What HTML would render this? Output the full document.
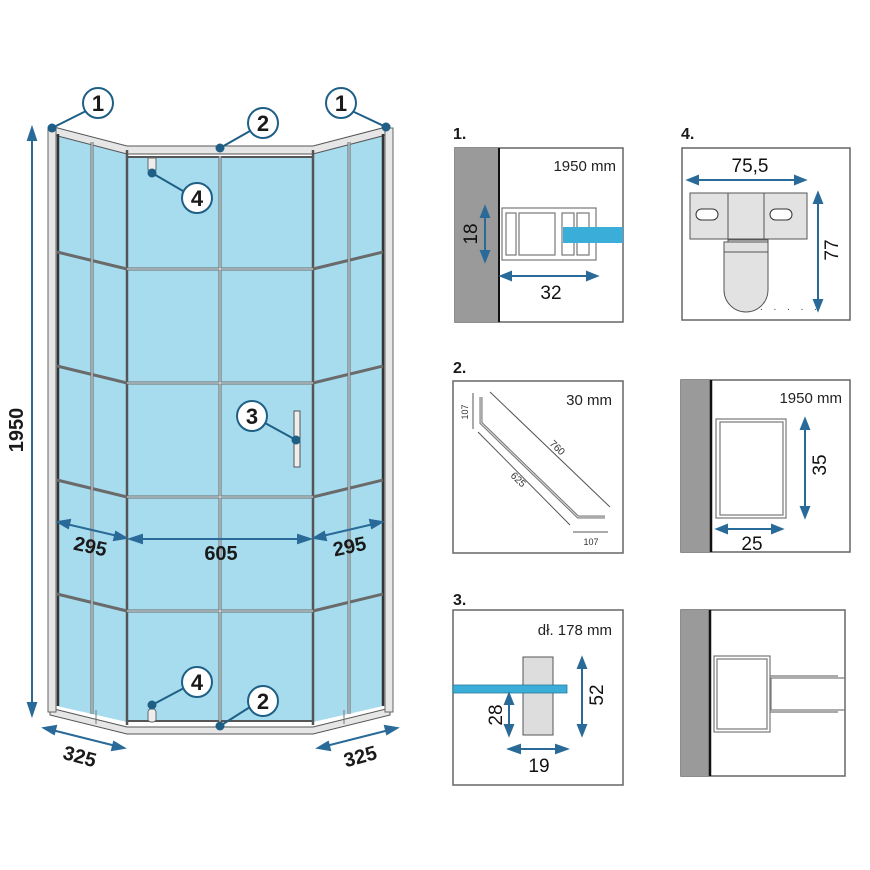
<!DOCTYPE html>
<html><head><meta charset="utf-8"><style>
html,body{margin:0;padding:0;background:#fff}
svg{display:block}
text{font-family:"Liberation Sans",sans-serif}
</style></head><body>
<svg width="870" height="870" viewBox="0 0 870 870" xmlns="http://www.w3.org/2000/svg">
<rect width="870" height="870" fill="#fff"/>
<!-- glass -->
<polygon points="57,133 127,150 127,722 57,706" fill="#a7dcef"/>
<polygon points="127,156 313,156 313,722 127,722" fill="#a7dcef"/>
<polygon points="313,150 383,133 383,706 313,722" fill="#a7dcef"/>
<!-- top frames -->
<polygon points="50,126 127,146 313,146 390,126 390,134 313,154 127,154 50,134" fill="#e6e6e6" stroke="#555" stroke-width="1"/>
<line x1="127" y1="157" x2="313" y2="157" stroke="#555" stroke-width="2"/>
<!-- bottom frames -->
<polygon points="50,708 127,727 313,727 390,708 390,715 313,734 127,734 50,715" fill="#e6e6e6" stroke="#555" stroke-width="1"/>
<line x1="127" y1="721" x2="313" y2="721" stroke="#555" stroke-width="2"/>
<line x1="96" y1="710" x2="96" y2="724" stroke="#777" stroke-width="1"/>
<line x1="344" y1="710" x2="344" y2="724" stroke="#777" stroke-width="1"/>
<!-- posts -->
<rect x="48" y="128" width="8" height="584" fill="#e6e6e6" stroke="#666" stroke-width="1"/>
<rect x="385" y="128" width="8" height="584" fill="#e6e6e6" stroke="#666" stroke-width="1"/>
<line x1="58" y1="134" x2="58" y2="706" stroke="#333" stroke-width="2.5"/>
<line x1="383" y1="134" x2="383" y2="706" stroke="#333" stroke-width="2.5"/>
<!-- panel dividers -->
<g stroke="#555" stroke-width="2.5">
<line x1="127" y1="150" x2="127" y2="725"/>
<line x1="313" y1="150" x2="313" y2="725"/>
</g>
<!-- grid -->
<g stroke="#6a6a6a" stroke-width="3" fill="none">
<line x1="220" y1="156" x2="220" y2="722"/>
<line x1="92" y1="142" x2="92" y2="714"/>
<line x1="349" y1="142" x2="349" y2="714"/>
<line x1="127" y1="269" x2="313" y2="269"/>
<line x1="127" y1="383" x2="313" y2="383"/>
<line x1="127" y1="497" x2="313" y2="497"/>
<line x1="127" y1="611" x2="313" y2="611"/>
<line x1="57" y1="252" x2="127" y2="269"/>
<line x1="57" y1="366" x2="127" y2="383"/>
<line x1="57" y1="480" x2="127" y2="497"/>
<line x1="57" y1="594" x2="127" y2="611"/>
<line x1="313" y1="269" x2="383" y2="252"/>
<line x1="313" y1="383" x2="383" y2="366"/>
<line x1="313" y1="497" x2="383" y2="480"/>
<line x1="313" y1="611" x2="383" y2="594"/>
</g>
<g stroke="#d8eef6" stroke-width="1" fill="none">
<line x1="220" y1="156" x2="220" y2="722"/>
<line x1="92" y1="142" x2="92" y2="714"/>
<line x1="349" y1="142" x2="349" y2="714"/>
<line x1="127" y1="269" x2="313" y2="269"/>
<line x1="127" y1="383" x2="313" y2="383"/>
<line x1="127" y1="497" x2="313" y2="497"/>
<line x1="127" y1="611" x2="313" y2="611"/>
</g>
<!-- hinges / handle -->
<rect x="148" y="158" width="8" height="12" fill="#eee" stroke="#666"/>
<rect x="148" y="709" width="8" height="13" rx="3" fill="#eee" stroke="#666"/>
<rect x="294" y="411" width="6" height="56" fill="#eee" stroke="#555"/>
<!-- callouts -->
<g stroke="#1f5f86" stroke-width="2" fill="none">
<line x1="52" y1="128" x2="86" y2="111"/>
<line x1="386" y1="127" x2="352" y2="111"/>
<line x1="220" y1="148" x2="250" y2="131"/>
<line x1="152" y1="173" x2="183" y2="191"/>
<line x1="296" y1="440" x2="265" y2="423"/>
<line x1="152" y1="705" x2="184" y2="688"/>
<line x1="220" y1="726" x2="250" y2="707"/>
</g>
<g fill="#1f5f86">
<circle cx="52" cy="128" r="4.5"/><circle cx="386" cy="127" r="4.5"/><circle cx="220" cy="148" r="4.5"/>
<circle cx="152" cy="173" r="4.5"/><circle cx="296" cy="440" r="4.5"/><circle cx="152" cy="705" r="4.5"/><circle cx="220" cy="726" r="4.5"/>
</g>
<g fill="#fff" stroke="#1f5f86" stroke-width="2">
<circle cx="98" cy="103" r="15"/><circle cx="341" cy="103" r="15"/><circle cx="263" cy="123" r="15"/>
<circle cx="197" cy="198" r="15"/><circle cx="252" cy="416" r="15"/><circle cx="197" cy="682" r="15"/><circle cx="263" cy="701" r="15"/>
</g>
<g font-size="22" font-weight="bold" fill="#1a1a1a" text-anchor="middle">
<text x="98" y="111">1</text><text x="341" y="111">1</text><text x="263" y="131">2</text>
<text x="197" y="206">4</text><text x="252" y="424">3</text><text x="197" y="690">4</text><text x="263" y="709">2</text>
</g>
<!-- dimensions main -->
<g stroke="#2a6a98" stroke-width="2" fill="#2a6a98">
<line x1="32" y1="135" x2="32" y2="710"/>
<polygon points="32,128 28,140 36,140"/><polygon points="32,715 28,703 36,703"/>
<line x1="62" y1="523" x2="122" y2="537"/>
<polygon points="58,522 70,520 68,528"/><polygon points="126,538 114,540 116,532"/>
<line x1="134" y1="539" x2="306" y2="539"/>
<polygon points="130,539 142,535 142,543"/><polygon points="310,539 298,535 298,543"/>
<line x1="318" y1="537" x2="378" y2="523"/>
<polygon points="314,538 324,532 326,540"/><polygon points="382,522 372,528 370,520"/>
<line x1="48" y1="729" x2="120" y2="747"/>
<polygon points="44,728 56,726 54,734"/><polygon points="124,748 112,750 114,742"/>
<line x1="322" y1="747" x2="393" y2="729"/>
<polygon points="318,748 328,742 330,750"/><polygon points="397,728 387,734 385,726"/>
</g>
<g font-size="20" font-weight="bold" fill="#1a1a1a" text-anchor="middle">
<text transform="translate(23,430) rotate(-90)">1950</text>
<text transform="translate(89,553) rotate(12)">295</text>
<text x="221" y="560">605</text>
<text transform="translate(351,553) rotate(-12)">295</text>
<text transform="translate(78,763) rotate(15)">325</text>
<text transform="translate(362,763) rotate(-15)">325</text>
</g>
<!-- detail labels -->
<g font-size="16" font-weight="bold" fill="#1a1a1a">
<text x="453" y="139">1.</text><text x="681" y="139">4.</text>
<text x="453" y="373">2.</text><text x="453" y="605">3.</text>
</g>
<!-- panel 1 -->
<rect x="455" y="148" width="168" height="174" fill="#fff" stroke="#666" stroke-width="1.5"/>
<rect x="455" y="148" width="44" height="174" fill="#9a9a9a"/>
<line x1="499" y1="148" x2="499" y2="322" stroke="#111" stroke-width="2"/>
<g fill="none" stroke="#777" stroke-width="1.2">
<rect x="502" y="208" width="94" height="52"/>
<rect x="506" y="213" width="10" height="42"/>
<rect x="519" y="213" width="36" height="42"/>
<rect x="562" y="213" width="12" height="42"/>
<rect x="577" y="213" width="12" height="42"/>
</g>
<rect x="563" y="227" width="60" height="16" fill="#3aaed8"/>
<text x="616" y="171" font-size="15" fill="#222" text-anchor="end">1950 mm</text>
<g stroke="#2a6a98" stroke-width="2" fill="#2a6a98">
<line x1="485" y1="212" x2="485" y2="256"/><polygon points="485,207 481,217 489,217"/><polygon points="485,261 481,251 489,251"/>
<line x1="506" y1="276" x2="592" y2="276"/><polygon points="501,276 511,272 511,280"/><polygon points="597,276 587,272 587,280"/>
</g>
<text transform="translate(477,234) rotate(-90)" font-size="19" fill="#111" text-anchor="middle">18</text>
<text x="551" y="299" font-size="19" fill="#111" text-anchor="middle">32</text>
<!-- panel 4 -->
<rect x="682" y="148" width="168" height="172" fill="#fff" stroke="#666" stroke-width="1.5"/>
<g stroke="#555" stroke-width="1" fill="#e2e2e2">
<rect x="690" y="193" width="117" height="46"/>
<rect x="728" y="240" width="40" height="6"/>
<path d="M724,242 H768 V290 A22,22 0 0 1 724,290 Z"/>
</g>
<line x1="728" y1="193" x2="728" y2="239" stroke="#555"/><line x1="764" y1="193" x2="764" y2="239" stroke="#555"/>
<line x1="724" y1="252" x2="768" y2="252" stroke="#555"/>
<rect x="696" y="209" width="22" height="11" rx="5.5" fill="#fff" stroke="#333"/>
<rect x="770" y="209" width="22" height="11" rx="5.5" fill="#fff" stroke="#333"/>
<text x="760" y="310" font-size="10" fill="#444" letter-spacing="4">. . . . .</text>
<text x="750" y="172" font-size="19" fill="#111" text-anchor="middle">75,5</text>
<g stroke="#2a6a98" stroke-width="2" fill="#2a6a98">
<line x1="692" y1="180" x2="800" y2="180"/><polygon points="688,180 698,176 698,184"/><polygon points="805,180 795,176 795,184"/>
<line x1="818" y1="198" x2="818" y2="305"/><polygon points="818,193 814,203 822,203"/><polygon points="818,310 814,300 822,300"/>
</g>
<text transform="translate(838,250) rotate(-90)" font-size="19" fill="#111" text-anchor="middle">77</text>
<!-- panel 2 -->
<rect x="453" y="381" width="170" height="172" fill="#fff" stroke="#666" stroke-width="1.5"/>
<text x="612" y="405" font-size="15" fill="#222" text-anchor="end">30 mm</text>
<path d="M481,397 V423 L578,517 H605" fill="none" stroke="#777" stroke-width="3"/>
<path d="M481,397 V423 L578,517 H605" fill="none" stroke="#ddd" stroke-width="1"/>
<g stroke="#555" stroke-width="1" fill="#555">
<line x1="490" y1="392" x2="610" y2="507"/><line x1="478" y1="432" x2="570" y2="525"/>
<line x1="473" y1="393" x2="473" y2="429"/><line x1="573" y1="532" x2="608" y2="532"/>
</g>
<text transform="translate(468,412) rotate(-90)" font-size="9" fill="#333" text-anchor="middle">107</text>
<text transform="translate(555,450) rotate(44)" font-size="10" fill="#333" text-anchor="middle">760</text>
<text transform="translate(516,482) rotate(44)" font-size="10" fill="#333" text-anchor="middle">625</text>
<text x="591" y="545" font-size="9" fill="#333" text-anchor="middle">107</text>
<!-- panel right middle -->
<rect x="681" y="380" width="169" height="172" fill="#fff" stroke="#666" stroke-width="1.5"/>
<rect x="681" y="380" width="30" height="172" fill="#9a9a9a"/>
<line x1="711" y1="380" x2="711" y2="552" stroke="#111" stroke-width="2.5"/>
<rect x="716" y="419" width="70" height="99" fill="#fff" stroke="#777" stroke-width="1.2"/>
<rect x="720" y="422" width="63" height="93" fill="none" stroke="#777" stroke-width="1.2"/>
<text x="842" y="403" font-size="15" fill="#222" text-anchor="end">1950 mm</text>
<g stroke="#2a6a98" stroke-width="2" fill="#2a6a98">
<line x1="805" y1="424" x2="805" y2="512"/><polygon points="805,419 801,429 809,429"/><polygon points="805,517 801,507 809,507"/>
<line x1="722" y1="529" x2="777" y2="529"/><polygon points="717,529 727,525 727,533"/><polygon points="782,529 772,525 772,533"/>
</g>
<text transform="translate(826,465) rotate(-90)" font-size="19" fill="#111" text-anchor="middle">35</text>
<text x="752" y="550" font-size="19" fill="#111" text-anchor="middle">25</text>
<!-- panel 3 -->
<rect x="453" y="610" width="170" height="175" fill="#fff" stroke="#666" stroke-width="1.5"/>
<text x="612" y="635" font-size="15" fill="#222" text-anchor="end">dł. 178 mm</text>
<rect x="523" y="657" width="30" height="78" fill="#ddd" stroke="#555" stroke-width="1"/>
<rect x="453" y="685" width="114" height="8" fill="#3aaed8" stroke="#2a7a98" stroke-width="0.8"/>
<g stroke="#2a6a98" stroke-width="2" fill="#2a6a98">
<line x1="582" y1="663" x2="582" y2="730"/><polygon points="582,658 578,668 586,668"/><polygon points="582,735 578,725 586,725"/>
<line x1="509" y1="698" x2="509" y2="730"/><polygon points="509,694 505,704 513,704"/><polygon points="509,735 505,725 513,725"/>
<line x1="515" y1="749" x2="561" y2="749"/><polygon points="509,749 520,745 520,753"/><polygon points="567,749 556,745 556,753"/>
</g>
<text transform="translate(603,695) rotate(-90)" font-size="19" fill="#111" text-anchor="middle">52</text>
<text transform="translate(502,715) rotate(-90)" font-size="19" fill="#111" text-anchor="middle">28</text>
<text x="539" y="772" font-size="19" fill="#111" text-anchor="middle">19</text>
<!-- panel bottom right -->
<rect x="681" y="610" width="164" height="166" fill="#fff" stroke="#666" stroke-width="1.5"/>
<rect x="681" y="610" width="29" height="166" fill="#9a9a9a"/>
<line x1="710" y1="610" x2="710" y2="776" stroke="#111" stroke-width="2.5"/>
<g fill="none" stroke="#777" stroke-width="1.2">
<rect x="714" y="656" width="56" height="76"/>
<rect x="717" y="659" width="50" height="70"/>
<rect x="771" y="678" width="74" height="32"/>
<path d="M770,676 H838 M770,712 H838"/>
</g>
</svg>
</body></html>
